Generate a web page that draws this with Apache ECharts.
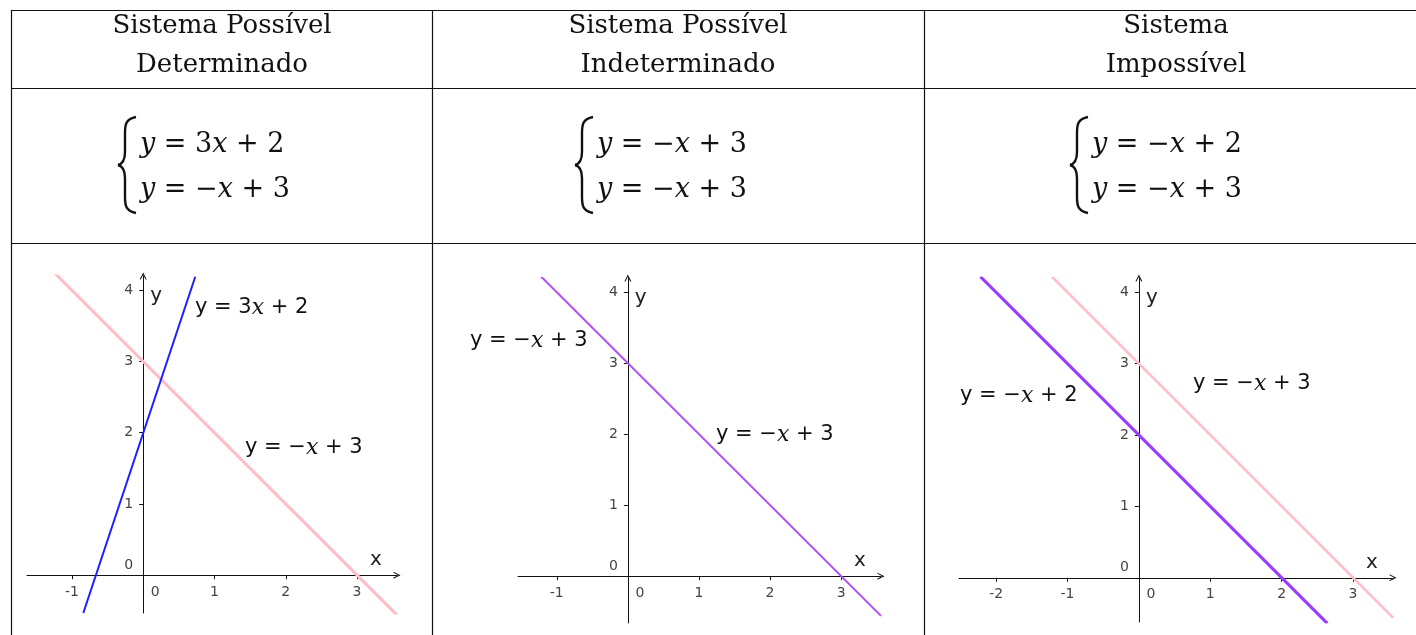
<!DOCTYPE html>
<html>
<head>
<meta charset="utf-8">
<script src="https://cdn.jsdelivr.net/npm/echarts@6/dist/echarts.min.js"></script>
<style>
  html, body { margin: 0; padding: 0; background: #fff; }
  #chart { width: 1416px; height: 635px; }
</style>
</head>
<body>
<div id="chart"></div>
<script>
// dados
const headers = [
    ['Sistema Possível', 'Determinado'],
    ['Sistema Possível', 'Indeterminado'],
    ['Sistema', 'Impossível']
];
const systems = [
    [['y', ' = 3', 'x', ' + 2'], ['y', ' = \u2212', 'x', ' + 3']],
    [['y', ' = \u2212', 'x', ' + 3'], ['y', ' = \u2212', 'x', ' + 3']],
    [['y', ' = \u2212', 'x', ' + 2'], ['y', ' = \u2212', 'x', ' + 3']]
];
const xTicksA = [-1, 0, 1, 2, 3];
const xTicksB = [-2, -1, 0, 1, 2, 3];
const yTicks = [0, 1, 2, 3, 4];

// extremos das retas visiveis em cada grafico
const spdReta1 = [[-0.84, -0.53], [0.73, 4.19]];   // y = 3x + 2
const spdReta2 = [[-1.24, 4.24], [3.56, -0.56]];   // y = -x + 3
const spiReta = [[-1.23, 4.23], [3.56, -0.56]];    // y = -x + 3 (duas vezes)
const siReta1 = [[-2.22, 4.22], [2.64, -0.64]];    // y = -x + 2
const siReta2 = [[-1.22, 4.22], [3.56, -0.56]];    // y = -x + 3

(function(){
    let myChart = echarts.init(document.getElementById('chart'));

    const serif = 'DejaVu Serif';
    const sans = 'DejaVu Sans';
    const PINK = '#ffbcc6', BLUE = '#1f1fff', PURPLE = '#b24cf7', PURPLE2 = '#9b3bff';

    const panels = [
        {grid: {left: 27, top: 276, width: 370, height: 337}, x: [-1.63, 3.56], y: [-0.53, 4.2], xt: xTicksA},
        {grid: {left: 518, top: 278, width: 363, height: 345}, x: [-1.545, 3.56], y: [-0.66, 4.2], xt: xTicksA},
        {grid: {left: 959, top: 278, width: 434, height: 344}, x: [-2.52, 3.56], y: [-0.62, 4.2], xt: xTicksB}
    ];

    const arrow = 'path://M0,10L5,0L10,10L8.4,10L5,3.2L1.6,10Z';
    const lbl = {color: '#444', fontSize: 14, fontFamily: sans};

    let grids = [], xAxes = [], yAxes = [];
    panels.forEach((p, i) => {
        grids.push(Object.assign({containLabel: false, outerBoundsMode: 'none'}, p.grid));
        // eixos cruzando na origem
        const offX = -p.grid.height * (0 - p.y[0]) / (p.y[1] - p.y[0]);
        const offY = -p.grid.width * (0 - p.x[0]) / (p.x[1] - p.x[0]);
        xAxes.push({
            type: 'value', gridIndex: i, min: p.x[0], max: p.x[1], position: 'bottom', offset: offX,
            axisLine: {onZero: false, lineStyle: {color: '#111', width: 1}, symbol: ['none', arrow], symbolSize: [11, 7]},
            axisTick: {show: true, customValues: p.xt, length: 4, lineStyle: {color: '#111'}},
            axisLabel: Object.assign({}, lbl, {
                customValues: p.xt, margin: 10,
                formatter: v => v === 0 ? '{z|0}' : String(v),
                rich: {z: Object.assign({}, lbl, {padding: [0, 0, 0, 24]})}
            }),
            splitLine: {show: false},
            name: 'x', nameLocation: 'end', nameGap: -21,
            nameTextStyle: {fontFamily: sans, fontSize: 20, color: '#222', align: 'center', verticalAlign: 'bottom', padding: [0, 0, 5, 0]}
        });
        yAxes.push({
            type: 'value', gridIndex: i, min: p.y[0], max: p.y[1], position: 'left', offset: offY,
            axisLine: {onZero: false, lineStyle: {color: '#111', width: 1}, symbol: ['none', arrow], symbolSize: [11, 7]},
            axisTick: {show: true, customValues: yTicks, length: 4, lineStyle: {color: '#111'}},
            axisLabel: Object.assign({}, lbl, {
                customValues: yTicks, margin: 10,
                formatter: v => v === 0 ? '{z|0}' : String(v),
                rich: {z: Object.assign({}, lbl, {padding: [0, 0, 20, 0]})}
            }),
            splitLine: {show: false},
            name: 'y', nameLocation: 'end', nameGap: -20,
            nameTextStyle: {fontFamily: sans, fontSize: 20, color: '#222', align: 'left', verticalAlign: 'middle', padding: [0, 0, 0, 7]}
        });
    });

    function reta(idx, data, color, width) {
        return {
            type: 'line', xAxisIndex: idx, yAxisIndex: idx, data: data,
            showSymbol: false, symbol: 'none', clip: true, silent: true,
            lineStyle: {color: color, width: width}
        };
    }

    // textos e moldura da tabela
    let graphic = [];
    const line = (x1, y1, x2, y2) => ({
        type: 'line', shape: {x1, y1, x2, y2}, style: {stroke: '#111', lineWidth: 1.2}, silent: true
    });
    graphic.push(line(11, 10.5, 1416, 10.5));
    graphic.push(line(11, 88.5, 1416, 88.5));
    graphic.push(line(11, 243.5, 1416, 243.5));
    graphic.push(line(11.5, 10, 11.5, 635));
    graphic.push(line(432.5, 10, 432.5, 635));
    graphic.push(line(924.5, 10, 924.5, 635));

    const colCenters = [222, 678, 1176];
    headers.forEach((h, i) => {
        h.forEach((t, j) => {
            graphic.push({
                type: 'text', x: colCenters[i], y: j === 0 ? 26 : 65, silent: true,
                style: {text: t, fill: '#111', fontFamily: serif, fontSize: 26, align: 'center', verticalAlign: 'middle'}
            });
        });
    });

    const eqRich = {
        i: {fontFamily: serif, fontStyle: 'italic', fontSize: 27, fill: '#111'},
        n: {fontFamily: serif, fontSize: 27, fill: '#111'}
    };
    const curve = (x1, y1, cpx1, cpy1, cpx2, cpy2, x2, y2) => ({
        type: 'bezierCurve', silent: true,
        shape: {x1, y1, cpx1, cpy1, cpx2, cpy2, x2, y2},
        style: {stroke: '#111', lineWidth: 2.4, fill: null}
    });
    const eqLeft = [140, 597, 1092];
    systems.forEach((s, i) => {
        const x0 = eqLeft[i];
        s.forEach((parts, j) => {
            const txt = parts.map((p, k) => (k % 2 === 0 ? '{i|' : '{n|') + p + '}').join('');
            graphic.push({
                type: 'text', x: x0, y: j === 0 ? 145 : 190, silent: true,
                style: {text: txt, rich: eqRich, align: 'left', verticalAlign: 'middle'}
            });
        });
        // chave do sistema
        const b = x0 - 4, m = b - 11, t = b - 18;
        graphic.push(curve(b, 117, b - 10, 119, m, 124, m, 133));
        graphic.push(Object.assign(line(m, 133, m, 152), {style: {stroke: '#111', lineWidth: 2.4}}));
        graphic.push(curve(m, 152, m, 160, m - 3, 164, t, 165));
        graphic.push(curve(t, 165, m - 3, 166, m, 170, m, 178));
        graphic.push(Object.assign(line(m, 178, m, 197), {style: {stroke: '#111', lineWidth: 2.4}}));
        graphic.push(curve(m, 197, m, 206, b - 10, 211, b, 213));
    });

    // rotulos das retas
    const labRich = {
        n: {fontFamily: sans, fontSize: 21, fill: '#111'},
        i: {fontFamily: serif, fontStyle: 'italic', fontSize: 22, fill: '#111'}
    };
    const labels = [
        [195, 308, ['y = 3', 'x', ' + 2']],
        [245, 448, ['y = \u2212', 'x', ' + 3']],
        [470, 341, ['y = \u2212', 'x', ' + 3']],
        [716, 435, ['y = \u2212', 'x', ' + 3']],
        [960, 396, ['y = \u2212', 'x', ' + 2']],
        [1193, 384, ['y = \u2212', 'x', ' + 3']]
    ];
    labels.forEach(l => {
        graphic.push({
            type: 'text', x: l[0], y: l[1], silent: true, z: 10,
            style: {text: '{n|' + l[2][0] + '}{i|' + l[2][1] + '}{n|' + l[2][2] + '}', rich: labRich, align: 'left', verticalAlign: 'middle'}
        });
    });

    let options = {
        animation: false,
        backgroundColor: '#fff',
        grid: grids,
        xAxis: xAxes,
        yAxis: yAxes,
        graphic: graphic,
        series: [
            reta(0, spdReta2, PINK, 3),
            reta(0, spdReta1, BLUE, 2),
            reta(1, spiReta, PURPLE, 2),
            reta(2, siReta2, PINK, 2.5),
            reta(2, siReta1, PURPLE2, 3)
        ]
    };
    myChart.setOption(options);
})();
</script>
</body>
</html>
